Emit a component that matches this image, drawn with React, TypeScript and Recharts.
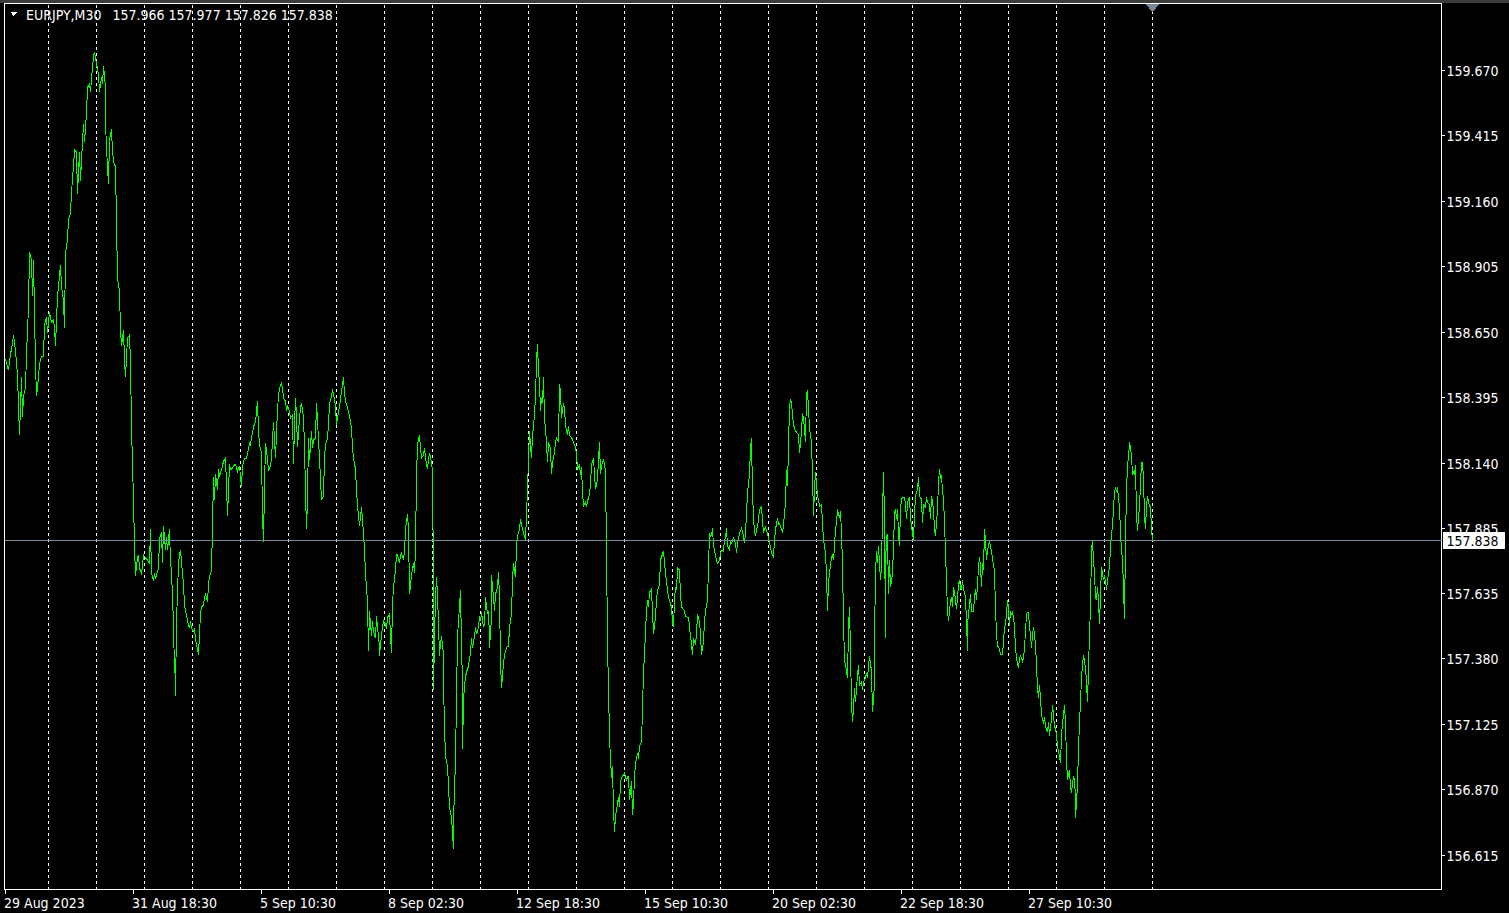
import {
  LineChart,
  Line,
  XAxis,
  YAxis,
  ReferenceLine,
  ReferenceArea,
  ReferenceDot,
} from 'recharts'

const SYMBOL = 'EURJPY,M30'
const OHLC = [157.966, 157.977, 157.826, 157.838]
const LAST_PRICE = 157.838
const LAST_BAR = 1147

const PRICE_TICKS = [
  159.67, 159.415, 159.16, 158.905, 158.65, 158.395, 158.14, 157.885, 157.635, 157.38, 157.125,
  156.87, 156.615,
]
const PRICE_RANGE = [156.4811, 159.9294]
const BAR_RANGE = [-1, 1436]

const TIME_TICK_BARS = [0, 128, 256, 384, 512, 640, 768, 896, 1024]
const TIME_TICK_LABELS = [
  '29 Aug 2023',
  '31 Aug 18:30',
  '5 Sep 10:30',
  '8 Sep 02:30',
  '12 Sep 18:30',
  '15 Sep 10:30',
  '20 Sep 02:30',
  '22 Sep 18:30',
  '27 Sep 10:30',
]
const GRID_BARS = [
  43, 91, 139, 187, 235, 283, 331, 379, 427, 475, 523, 571, 619, 667, 715, 763, 811, 859, 907,
  955, 1003, 1051, 1099, 1147,
]

// bar index (M30 bars from the left edge) and close price
const barsA = [
  0, 2, 3, 5, 7, 8, 10, 12, 13, 14,
  16, 17, 18, 20, 21, 23, 24, 26, 27, 28,
  30, 31, 32, 34, 36, 38, 39, 41, 42, 44,
  46, 48, 49, 50, 52, 53, 55, 56, 58, 59,
  60, 62, 63, 65, 66, 68, 69, 71, 72, 74,
  75, 76, 78, 79, 81, 82, 84, 85, 86, 88,
  89, 90, 92, 93, 94, 96, 97, 98, 100, 100,
  102, 103, 104, 106, 107, 109, 110, 111, 112, 114,
  115, 116, 118, 119, 120, 122, 124, 125, 126, 128,
  129, 130, 132, 133, 134, 136, 137, 138, 140, 142,
  144, 145, 146, 148, 149, 150, 152, 153, 154, 156,
  157, 158, 160, 161, 162, 164, 165, 166, 168, 169,
  170, 170, 171, 173, 174, 175, 177, 178, 179, 181,
  182, 184, 185, 186, 188, 189, 190, 192, 193, 194,
  195, 196, 198, 199, 200, 202, 203, 204, 206, 207,
  208, 209, 210, 212, 213, 214, 216, 217, 218, 220,
  221, 222, 224, 225, 226, 228, 230, 232, 234, 236,
  237, 239, 241, 242, 244, 245, 246, 248, 249, 250,
  252, 253, 254, 256, 257, 258, 259, 260, 262, 263,
  265, 266, 268, 269, 270, 272, 273, 274, 276, 277,
  278, 280, 281, 282, 284,
]
const pricesA = [
  158.545, 158.514, 158.502, 158.564, 158.607, 158.639, 158.576, 158.483, 158.363, 158.25,
  158.475, 158.32, 158.401, 158.432, 158.564, 158.748, 158.961, 158.93, 158.791, 158.93,
  158.525, 158.401, 158.432, 158.525, 158.557, 158.557, 158.678, 158.709, 158.646, 158.728,
  158.689, 158.697, 158.666, 158.596, 158.791, 158.83, 158.911, 158.83, 158.771, 158.666,
  158.953, 159.012, 159.086, 159.113, 159.195, 159.297, 159.359, 159.351, 159.187, 159.351,
  159.238, 159.32, 159.459, 159.389, 159.502, 159.604, 159.615, 159.584, 159.635, 159.725,
  159.74, 159.717, 159.674, 159.654, 159.584, 159.643, 159.615, 159.686, 159.604, 159.459,
  159.289, 159.226, 159.401, 159.44, 159.351, 159.297, 159.297, 159.074, 158.86, 158.81,
  158.658, 158.596, 158.658, 158.545, 158.475, 158.627, 158.639, 158.533, 158.281, 157.996,
  157.822, 157.701, 157.771, 157.783, 157.732, 157.712, 157.74, 157.783, 157.771, 157.763,
  157.751, 157.883, 157.712, 157.681, 157.712, 157.689, 157.72, 157.732, 157.845, 157.872,
  157.751, 157.895, 157.802, 157.853, 157.802, 157.883, 157.751, 157.72, 157.517, 157.323,
  157.343, 157.234, 157.525, 157.751, 157.783, 157.802, 157.712, 157.669, 157.588, 157.549,
  157.525, 157.498, 157.525, 157.498, 157.486, 157.498, 157.455, 157.416, 157.394, 157.474,
  157.556, 157.58, 157.588, 157.619, 157.63, 157.599, 157.669, 157.701, 157.72, 157.895,
  158.086, 157.996, 158.097, 158.035, 158.117, 158.086, 158.117, 158.129, 158.148, 158.16,
  158.055, 157.934, 158.136, 158.117, 158.117, 158.129, 158.136, 158.109, 158.129, 158.047,
  158.129, 158.16, 158.16, 158.179, 158.218, 158.211, 158.238, 158.281, 158.292, 158.3,
  158.382, 158.269, 158.211, 158.179, 157.934, 157.833, 158.047, 158.218, 158.16, 158.109,
  158.129, 158.16, 158.3, 158.23, 158.16, 158.351, 158.401, 158.432, 158.451, 158.432,
  158.393, 158.382, 158.343, 158.363, 158.343,
]

const barsB = [
  285, 287, 288, 289, 290, 291, 292, 294, 295, 296,
  298, 299, 300, 301, 302, 303, 304, 306, 307, 308,
  310, 311, 312, 314, 315, 316, 318, 319, 320, 322,
  323, 324, 326, 327, 328, 330, 331, 332, 334, 335,
  336, 338, 339, 340, 342, 343, 344, 346, 347, 348,
  350, 351, 352, 354, 355, 356, 358, 359, 360, 362,
  363, 364, 366, 367, 368, 370, 371, 372, 374, 374,
  376, 377, 378, 380, 381, 382, 384, 385, 386, 387,
  388, 390, 391, 392, 394, 395, 396, 398, 399, 400,
  402, 403, 404, 405, 406, 408, 409, 410, 411, 412,
  414, 415, 416, 418, 419, 420, 422, 423, 424, 426,
  427, 428, 428, 429, 430, 431, 432, 433, 434, 435,
  436, 438, 438, 439, 440, 442, 443, 444, 446, 447,
  448, 448, 449, 450, 451, 452, 454, 455, 456, 457,
  457, 458, 459, 461, 462, 463, 465, 466, 467, 469,
  470, 471, 473, 474, 475, 476, 478, 479, 480, 482,
  483, 484, 484, 486, 486, 488, 489, 490, 492, 493,
  494, 495, 496, 498, 499, 500, 502, 503, 504, 506,
  507, 508, 510, 511, 512, 514, 515, 516, 518, 519,
  520, 522, 523, 524, 526, 527, 528, 530, 531, 532,
  533, 534, 535, 536, 537, 538, 539, 541, 542, 543,
  545, 546, 547, 549, 550, 551, 553, 554, 555, 556,
  558, 559, 560, 562, 563, 564, 566, 567, 568, 570,
  571, 572, 574,
]
const pricesB = [
  158.316, 158.328, 158.136, 158.289, 158.393, 158.324, 158.203, 158.316, 158.355, 158.374,
  158.316, 158.211, 158.027, 157.883, 158.0, 158.238, 158.152, 158.265, 158.199, 158.23,
  158.238, 158.374, 158.304, 158.16, 158.078, 158.0, 158.012, 158.164, 158.211, 158.238,
  158.289, 158.37, 158.401, 158.428, 158.408, 158.363, 158.289, 158.316, 158.363, 158.389,
  158.42, 158.475, 158.412, 158.382, 158.355, 158.343, 158.324, 158.277, 158.203, 158.16,
  158.117, 158.039, 157.973, 157.895, 157.934, 157.969, 157.868, 157.802, 157.712, 157.599,
  157.409, 157.564, 157.467, 157.525, 157.486, 157.459, 157.545, 157.502, 157.428, 157.39,
  157.474, 157.502, 157.525, 157.513, 157.494, 157.541, 157.552, 157.474, 157.401, 157.591,
  157.658, 157.724, 157.783, 157.783, 157.751, 157.783, 157.79, 157.763, 157.798, 157.883,
  157.941, 157.883, 157.63, 157.666, 157.705, 157.751, 157.712, 157.802, 158.094, 158.211,
  158.25, 158.199, 158.16, 158.172, 158.199, 158.16, 158.117, 158.16, 158.179, 158.144,
  158.105, 157.669, 157.257, 157.459, 157.619, 157.697, 157.63, 157.513, 157.39, 157.439,
  157.467, 157.394, 157.284, 157.117, 157.0, 156.961, 156.884, 156.802, 156.763, 156.704,
  156.638, 156.751, 156.868, 156.98, 157.226, 157.467, 157.584, 157.646, 157.435, 157.277,
  157.027, 157.21, 157.277, 157.331, 157.335, 157.355, 157.401, 157.459, 157.42, 157.467,
  157.502, 157.474, 157.502, 157.545, 157.525, 157.56, 157.502, 157.513, 157.619, 157.552,
  157.564, 157.459, 157.42, 157.541, 157.705, 157.619, 157.564, 157.63, 157.658, 157.716,
  157.619, 157.37, 157.265, 157.362, 157.39, 157.409, 157.428, 157.428, 157.502, 157.552,
  157.685, 157.751, 157.697, 157.818, 157.857, 157.883, 157.922, 157.902, 157.868, 157.857,
  157.841, 158.039, 158.16, 158.265, 158.16, 158.25, 158.277, 158.393, 158.541, 158.603,
  158.498, 158.455, 158.343, 158.393, 158.374, 158.475, 158.316, 158.222, 158.144, 158.222,
  158.199, 158.097, 158.144, 158.183, 158.222, 158.238, 158.222, 158.447, 158.42, 158.316,
  158.374, 158.355, 158.289, 158.25, 158.285, 158.25, 158.238, 158.238, 158.218, 158.203,
  158.172, 158.117, 158.133,
]

const barsC = [
  575, 576, 577, 578, 580, 581, 582, 584, 585, 586,
  588, 589, 590, 592, 593, 594, 595, 596, 598, 599,
  600, 601, 602, 603, 604, 605, 607, 607, 608, 609,
  610, 612, 613, 614, 615, 617, 618, 619, 621, 622,
  623, 624, 626, 627, 628, 629, 630, 632, 633, 634,
  636, 637, 638, 639, 640, 641, 642, 643, 644, 646,
  647, 648, 650, 651, 652, 654, 655, 656, 658, 659,
  660, 662, 663, 664, 666, 667, 668, 669, 670, 671,
  672, 674, 675, 676, 678, 679, 680, 682, 683, 684,
  686, 687, 688, 690, 691, 692, 694, 695, 696, 698,
  699, 700, 702, 703, 704, 705, 706, 707, 708, 710,
  711, 712, 714, 715, 716, 718, 719, 720, 721, 722,
  724, 725, 726, 728, 729, 730, 731, 732, 734, 735,
  736, 738, 739, 740, 741, 742, 744, 745, 746, 747,
  748, 749, 750, 752, 753, 754, 756, 757, 758, 760,
  761, 762, 764, 765, 766, 768, 769, 770, 772, 773,
  774, 776, 777, 778, 780, 781, 782, 783, 784, 785,
  786, 788, 789, 790, 792, 793, 794, 796, 797, 798,
  800, 801, 802, 803, 804, 806, 807, 808, 809, 810,
  812, 813, 814, 816, 817, 818, 820, 821, 822, 823,
  824, 825, 826, 827, 828, 829, 830, 831, 832, 833,
  834, 835, 836, 837, 838, 839, 840, 842, 843, 844,
  845, 846, 847, 848, 849, 850, 852, 853, 854, 856,
  857, 858, 860, 861, 862, 864,
]
const pricesC = [
  158.094, 158.125, 158.027, 157.973, 157.988, 157.969, 157.992, 158.019, 158.058, 158.136,
  158.16, 158.097, 158.039, 158.078, 158.152, 158.222, 158.097, 158.133, 158.152, 158.136,
  158.105, 157.802, 157.447, 157.249, 157.093, 156.972, 156.895, 156.961, 156.79, 156.704,
  156.763, 156.817, 156.841, 156.802, 156.903, 156.922, 156.926, 156.933, 156.903, 156.922,
  156.922, 156.829, 156.903, 156.771, 156.817, 156.922, 156.972, 157.011, 156.988, 157.039,
  157.054, 157.183, 157.331, 157.394, 157.486, 157.564, 157.607, 157.58, 157.638, 157.65,
  157.564, 157.474, 157.541, 157.607, 157.646, 157.666, 157.763, 157.775, 157.798, 157.751,
  157.712, 157.646, 157.619, 157.607, 157.58, 157.521, 157.502, 157.607, 157.658, 157.646,
  157.732, 157.724, 157.63, 157.58, 157.572, 157.564, 157.545, 157.541, 157.541, 157.502,
  157.435, 157.394, 157.459, 157.435, 157.474, 157.552, 157.525, 157.474, 157.394, 157.447,
  157.525, 157.564, 157.607, 157.736, 157.868, 157.857, 157.861, 157.887, 157.818, 157.783,
  157.763, 157.751, 157.763, 157.79, 157.802, 157.798, 157.841, 157.849, 157.887, 157.818,
  157.802, 157.837, 157.829, 157.849, 157.841, 157.829, 157.79, 157.829, 157.868, 157.876,
  157.887, 157.857, 157.829, 157.868, 157.945, 158.027, 158.094, 158.199, 158.238, 158.027,
  157.934, 157.868, 157.861, 157.895, 157.922, 157.961, 157.969, 157.914, 157.868, 157.895,
  157.876, 157.868, 157.829, 157.818, 157.79, 157.775, 157.841, 157.883, 157.926, 157.902,
  157.906, 157.883, 157.868, 157.902, 157.988, 158.113, 158.051, 158.203, 158.363, 158.389,
  158.374, 158.289, 158.277, 158.265, 158.257, 158.25, 158.179, 158.265, 158.335, 158.316,
  158.222, 158.412, 158.42, 158.355, 158.277, 158.222, 158.097, 157.934, 158.039, 158.105,
  158.012, 158.0, 157.973, 157.98, 157.906, 157.841, 157.79, 157.712, 157.564, 157.677,
  157.712, 157.744, 157.775, 157.783, 157.763, 157.818, 157.883, 157.906, 157.961, 157.941,
  157.926, 157.953, 157.868, 157.751, 157.525, 157.37, 157.355, 157.304, 157.498, 157.58,
  157.409, 157.21, 157.132, 157.183, 157.265, 157.21, 157.316, 157.355, 157.277, 157.288,
  157.257, 157.288, 157.304, 157.323, 157.304, 157.39,
]

const barsD = [
  866, 867, 868, 869, 869, 870, 871, 872, 873, 874,
  875, 876, 877, 878, 879, 880, 880, 881, 882, 883,
  884, 885, 886, 887, 888, 889, 890, 891, 892, 893,
  894, 895, 896, 898, 899, 900, 901, 902, 904, 905,
  906, 908, 909, 910, 912, 913, 914, 916, 917, 918,
  920, 921, 922, 924, 925, 926, 928, 929, 930, 932,
  933, 934, 935, 936, 937, 938, 939, 940, 941, 942,
  943, 944, 945, 946, 947, 948, 949, 950, 951, 952,
  953, 954, 955, 956, 957, 958, 959, 960, 961, 962,
  962, 964, 965, 966, 968, 969, 970, 971, 972, 973,
  974, 975, 976, 977, 978, 979, 980, 981, 982, 983,
  984, 985, 986, 987, 988, 989, 990, 991, 992, 993,
  994, 995, 996, 997, 998, 999, 1000, 1001, 1002, 1003,
  1004, 1005, 1006, 1007, 1008, 1009, 1010, 1011, 1012, 1013,
  1014, 1015, 1016, 1017, 1018, 1019, 1020, 1021, 1022, 1023,
  1024, 1025, 1026, 1027, 1028, 1029, 1030, 1031, 1032, 1033,
  1034, 1035, 1036, 1037, 1038, 1039, 1040, 1041, 1042, 1043,
  1044, 1045, 1046, 1047, 1048, 1049, 1050, 1051, 1052, 1053,
  1054, 1055, 1056, 1057, 1058, 1059, 1060, 1061, 1062, 1063,
  1064, 1065, 1066, 1067, 1068, 1069, 1070, 1070, 1071, 1072,
  1073, 1074, 1075, 1076, 1077, 1078, 1079, 1080, 1081, 1082,
  1083, 1084, 1085, 1086, 1087, 1088, 1089, 1090, 1091, 1092,
  1093, 1094, 1095, 1096, 1097, 1098, 1099, 1100, 1101, 1102,
  1103, 1104, 1105, 1106, 1107, 1108, 1109, 1110, 1111, 1112,
  1113, 1114, 1115, 1116, 1117, 1118, 1119, 1120, 1121, 1122,
  1123, 1124, 1125, 1126, 1127, 1128, 1129, 1130, 1131, 1132,
  1133, 1134, 1135, 1136, 1137, 1138, 1139, 1140, 1141, 1142,
  1143, 1144, 1145, 1146, 1147,
]
const pricesD = [
  157.331, 157.171, 157.226, 157.277, 157.455, 157.712, 157.798, 157.751, 157.818, 157.751,
  157.685, 157.736, 157.941, 158.105, 157.922, 157.459, 157.736, 157.857, 157.861, 157.63,
  157.763, 157.658, 157.685, 157.712, 157.81, 157.945, 157.961, 157.922, 157.961, 157.868,
  157.818, 157.961, 158.0, 158.008, 158.008, 157.98, 157.922, 157.988, 158.008, 157.926,
  157.895, 157.841, 157.941, 158.012, 158.039, 158.086, 158.012, 158.0, 157.906, 157.98,
  157.969, 158.008, 157.988, 157.98, 157.922, 158.012, 157.961, 157.883, 157.857, 157.961,
  158.066, 158.117, 158.078, 158.094, 158.031, 158.0, 157.914, 157.79, 157.685, 157.564,
  157.525, 157.564, 157.607, 157.619, 157.58, 157.658, 157.638, 157.607, 157.572, 157.619,
  157.666, 157.685, 157.658, 157.646, 157.685, 157.646, 157.638, 157.619, 157.525, 157.409,
  157.513, 157.591, 157.63, 157.564, 157.564, 157.619, 157.65, 157.607, 157.669, 157.736,
  157.775, 157.736, 157.658, 157.751, 157.724, 157.883, 157.837, 157.763, 157.802, 157.818,
  157.841, 157.81, 157.802, 157.763, 157.751, 157.712, 157.58, 157.474, 157.428, 157.428,
  157.416, 157.394, 157.394, 157.394, 157.447, 157.502, 157.513, 157.552, 157.607, 157.58,
  157.506, 157.564, 157.552, 157.56, 157.541, 157.502, 157.42, 157.382, 157.362, 157.343,
  157.382, 157.39, 157.382, 157.37, 157.382, 157.42, 157.486, 157.552, 157.56, 157.56,
  157.502, 157.474, 157.42, 157.474, 157.502, 157.474, 157.435, 157.355, 157.265, 157.226,
  157.277, 157.226, 157.16, 157.144, 157.132, 157.152, 157.117, 157.105, 157.093, 157.132,
  157.078, 157.117, 157.144, 157.199, 157.16, 157.113, 157.113, 157.078, 157.039, 157.019,
  157.0, 156.972, 157.078, 157.132, 157.16, 157.199, 157.132, 156.988, 156.907, 156.933,
  156.941, 156.884, 156.856, 156.895, 156.922, 156.907, 156.841, 156.759, 156.817, 156.895,
  157.027, 157.132, 157.21, 157.304, 157.355, 157.394, 157.37, 157.343, 157.288, 157.21,
  157.343, 157.474, 157.58, 157.802, 157.837, 157.763, 157.712, 157.619, 157.607, 157.658,
  157.607, 157.513, 157.63, 157.736, 157.712, 157.685, 157.697, 157.685, 157.646, 157.685,
  157.712, 157.736, 157.81, 157.868, 157.895, 157.961, 158.027, 158.047, 158.027, 158.047,
  158.0, 157.973, 157.868, 157.802, 157.763, 157.658, 157.533, 157.841, 158.027, 158.136,
  158.16, 158.222, 158.199, 158.172, 158.094, 158.105, 158.094, 158.133, 157.941, 157.876,
  157.926, 157.973, 158.055, 158.144, 158.144, 158.078, 157.934, 157.883, 157.973, 158.012,
  157.988, 157.973, 157.973, 157.883, 157.838,
]

const allBars = [...barsA, ...barsB, ...barsC, ...barsD]
const allPrices = [...pricesA, ...pricesB, ...pricesC, ...pricesD]
const series = allBars.map((bar, i) => ({ bar, price: allPrices[i] }))

const FONT = "'DejaVu Sans Condensed', 'Liberation Sans', Arial, sans-serif"
const GREEN = '#00ff00'
const SLATE = '#778899'

function TimeTick(props: any) {
  const { x, y, payload } = props
  const label = TIME_TICK_LABELS[TIME_TICK_BARS.indexOf(payload.value)]
  return (
    <g>
      <line x1={x} x2={x} y1={y} y2={y + 4} stroke="#fff" />
      <text x={x - 1.5} y={y + 18} fill="#fff" fontSize={14} fontFamily={FONT} textAnchor="start">
        {label}
      </text>
    </g>
  )
}

function PriceTick(props: any) {
  const { x, y, payload } = props
  return (
    <g>
      <line x1={x} x2={x + 3} y1={y} y2={y} stroke="#fff" />
      <text x={x + 5} y={y + 5.5} fill="#fff" fontSize={14} fontFamily={FONT} textAnchor="start">
        {Number(payload.value).toFixed(3)}
      </text>
    </g>
  )
}

function LastPriceLabel(props: any) {
  const { viewBox } = props
  const x = viewBox.x + viewBox.width + 1
  const y = viewBox.y
  return (
    <g>
      <rect x={x} y={y - 8.5} width={62} height={16.5} fill="#fff" />
      <text x={x + 4} y={y + 5.5} fill="#000" fontSize={14} fontFamily={FONT}>
        {LAST_PRICE.toFixed(3)}
      </text>
    </g>
  )
}

function ShiftMarker(props: any) {
  const { cx, cy } = props
  return (
    <polygon
      points={`${cx - 7.5},${cy} ${cx + 7.5},${cy} ${cx},${cy + 8.5}`}
      fill={SLATE}
    />
  )
}

export default function App() {
  return (
    <div
      style={{
        position: 'absolute',
        left: 0,
        top: 0,
        width: 1509,
        height: 913,
        background: '#000',
        shapeRendering: 'crispEdges',
      }}
    >
      <div style={{ position: 'absolute', left: 0, top: 0, width: 1509, height: 3, background: '#3c3c3c' }} />
      <LineChart
        width={1509}
        height={913}
        data={series}
        margin={{ top: 3.5, right: 0, bottom: 0, left: 4.5 }}
      >
        <XAxis
          type="number"
          dataKey="bar"
          domain={BAR_RANGE}
          allowDataOverflow
          ticks={TIME_TICK_BARS}
          interval={0}
          height={23.5}
          axisLine={false}
          tickLine={false}
          tickSize={0}
          tickMargin={0}
          tick={(p: any) => <TimeTick {...p} />}
        />
        <YAxis
          orientation="right"
          type="number"
          domain={PRICE_RANGE}
          allowDataOverflow
          ticks={PRICE_TICKS}
          interval={0}
          width={67.5}
          axisLine={false}
          tickLine={false}
          tickSize={0}
          tickMargin={0}
          tick={(p: any) => <PriceTick {...p} />}
        />
        {GRID_BARS.map((b) => (
          <ReferenceLine key={b} x={b} stroke="#fff" strokeDasharray="3 3" />
        ))}
        <ReferenceArea
          x1={BAR_RANGE[0]}
          x2={BAR_RANGE[1]}
          y1={PRICE_RANGE[0]}
          y2={PRICE_RANGE[1]}
          fill="none"
          fillOpacity={0}
          stroke="#fff"
          strokeOpacity={1}
        />
        <Line
          type="linear"
          dataKey="price"
          stroke={GREEN}
          strokeWidth={1}
          dot={false}
          activeDot={false}
          isAnimationActive={false}
        />
        <ReferenceLine
          y={LAST_PRICE}
          stroke={SLATE}
          label={(p: any) => <LastPriceLabel {...p} />}
        />
        <ReferenceDot
          x={LAST_BAR}
          y={PRICE_RANGE[1]}
          r={0}
          shape={(p: any) => <ShiftMarker {...p} />}
        />
      </LineChart>
      <svg
        width={1509}
        height={30}
        style={{ position: 'absolute', left: 0, top: 0, pointerEvents: 'none' }}
      >
        <polygon points="10,11.5 17.5,11.5 13.75,16" fill="#fff" />
        <text x={26} y={20} fill="#fff" fontSize={14} fontFamily={FONT}>
          {SYMBOL}
        </text>
        <text x={112.5} y={20} fill="#fff" fontSize={14} fontFamily={FONT} style={{ whiteSpace: 'pre' }}>
          {OHLC.map((v) => v.toFixed(3)).join(' ')}
        </text>
      </svg>
    </div>
  )
}
